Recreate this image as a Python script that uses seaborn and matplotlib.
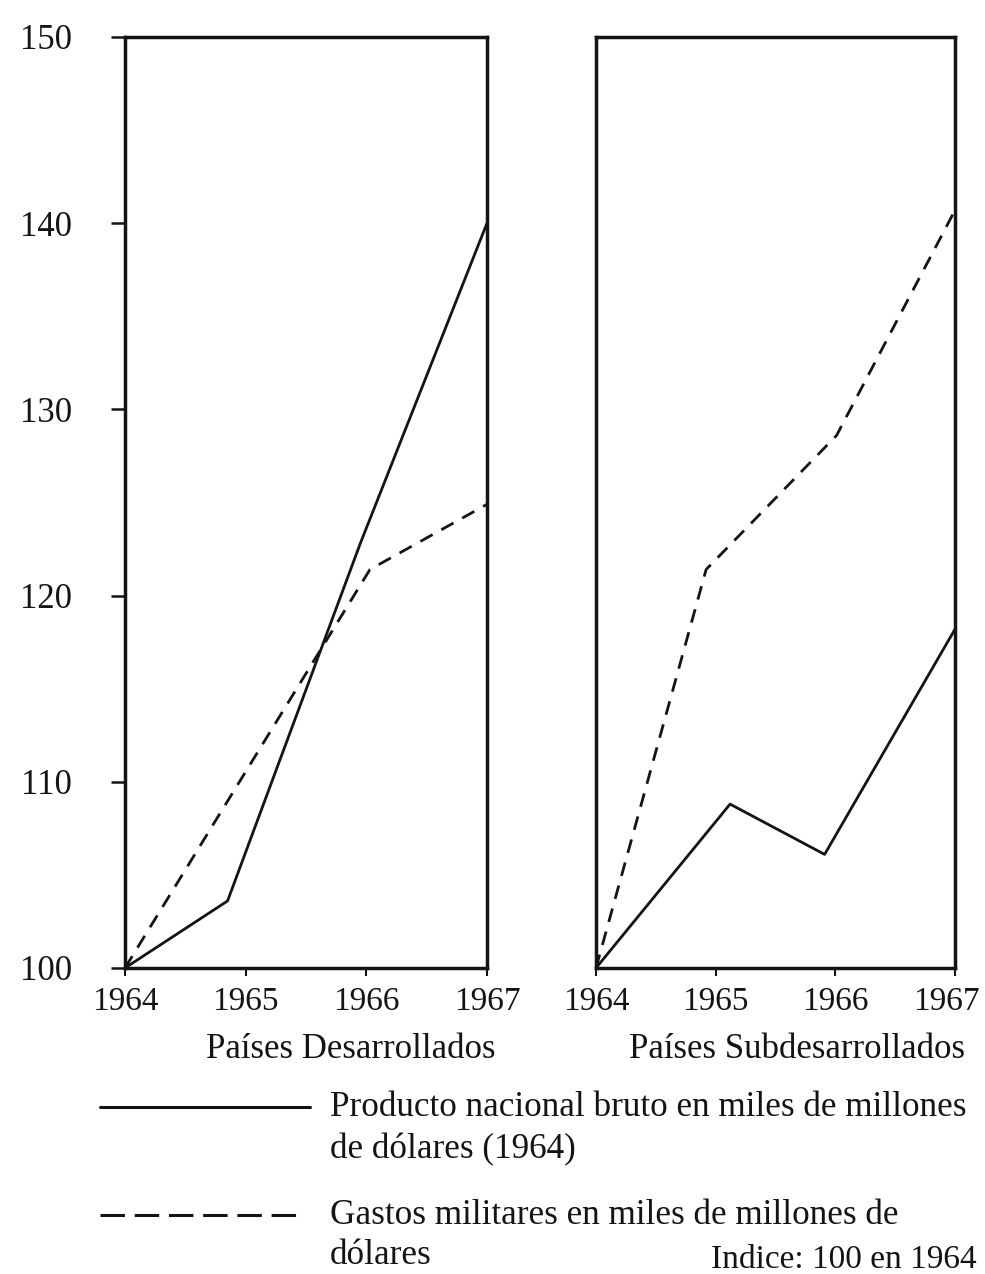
import pandas as pd
import matplotlib.pyplot as plt
import matplotlib.transforms as mtransforms
from matplotlib.lines import Line2D
import seaborn as sns

# Indice: 100 en 1964
des_pnb_x = [1964.0, 1964.85, 1965.95, 1967.0]
des_pnb_y = [100.0, 103.6, 122.8, 140.0]
des_gastos_x = [1964.0, 1966.03, 1967.0]
des_gastos_y = [100.0, 121.4, 124.9]

sub_pnb_x = [1964.0, 1965.12, 1965.91, 1967.0]
sub_pnb_y = [100.0, 108.8, 106.1, 118.2]
sub_gastos_x = [1964.0, 1964.92, 1966.01, 1967.0]
sub_gastos_y = [100.0, 121.4, 128.6, 140.7]

years = [1964, 1965, 1966, 1967]
y_ticks = [100, 110, 120, 130, 140, 150]
panel_titles = ["Países Desarrollados", "Países Subdesarrollados"]
legend_pnb = ["Producto nacional bruto en miles de millones", "de dólares (1964)"]
legend_gastos = ["Gastos militares en miles de millones de", "dólares"]
nota = "Indice: 100 en 1964"

INK = "#141414"


def _frame(pnb_x, pnb_y, g_x, g_y):
    return pd.DataFrame({
        "anio": pnb_x + g_x,
        "indice": pnb_y + g_y,
        "serie": ["PNB"] * len(pnb_x) + ["Gastos"] * len(g_x),
    })


sns.set_theme(style="ticks")
plt.rcParams["font.family"] = ["Liberation Serif", "DejaVu Serif"]

fig = plt.figure(figsize=(9.85, 12.74), dpi=100)
ax_l = fig.add_axes([0.1269, 0.2402, 0.3675, 0.7308])
ax_r = fig.add_axes([0.6051, 0.2402, 0.3645, 0.7308])

panels = [
    (ax_l, _frame(des_pnb_x, des_pnb_y, des_gastos_x, des_gastos_y)),
    (ax_r, _frame(sub_pnb_x, sub_pnb_y, sub_gastos_x, sub_gastos_y)),
]

for ax, df in panels:
    sns.lineplot(data=df, x="anio", y="indice", style="serie",
                 dashes={"PNB": "", "Gastos": (5, 3.6)},
                 color=INK, linewidth=2.0, estimator=None, sort=False,
                 legend=False, ax=ax, clip_on=False)
    ax.set_xlim(1964, 1967)
    ax.set_ylim(100, 150)
    ax.set_xticks(years)
    ax.set_xticklabels([str(y) for y in years], fontsize=24)
    ax.set_xlabel("")
    ax.set_ylabel("")
    for side in ["left", "right", "top", "bottom"]:
        ax.spines[side].set_visible(True)
        ax.spines[side].set_linewidth(2.5)
        ax.spines[side].set_color(INK)
    ax.tick_params(axis="x", direction="out", length=6, width=1.5,
                   pad=7, colors=INK)

# el ultimo rotulo del panel derecho queda pegado al borde
last = ax_r.get_xticklabels()[-1]
last.set_transform(last.get_transform() +
                   mtransforms.ScaledTranslation(-6 / 72, 0, fig.dpi_scale_trans))

ax_l.set_yticks(y_ticks)
ax_l.set_yticklabels([str(v) for v in y_ticks], fontsize=25)
ax_l.tick_params(axis="y", direction="out", length=10, width=1.8,
                 pad=28, colors=INK)
ax_r.set_yticks([])

fig.text(0.356, 0.176, panel_titles[0], fontsize=25, ha="center",
         va="center", color=INK)
fig.text(0.809, 0.176, panel_titles[1], fontsize=25, ha="center",
         va="center", color=INK)

# leyenda manual
fig.add_artist(Line2D([0.1015, 0.3147], [0.131, 0.131], color=INK,
                      linewidth=2.2))
fig.add_artist(Line2D([0.1015, 0.310], [0.0463, 0.0463], color=INK,
                      linewidth=2.2, dashes=(8, 3.2)))
fig.text(0.335, 0.131, legend_pnb[0], fontsize=25.3, va="center", color=INK)
fig.text(0.335, 0.0974, legend_pnb[1], fontsize=25.3, va="center", color=INK)
fig.text(0.335, 0.0463, legend_gastos[0], fontsize=25.3, va="center", color=INK)
fig.text(0.335, 0.0149, legend_gastos[1], fontsize=25.3, va="center", color=INK)
fig.text(0.992, 0.0110, nota, fontsize=24, ha="right", va="center",
         color=INK)

plt.savefig("out.png", dpi=100)
plt.close()
